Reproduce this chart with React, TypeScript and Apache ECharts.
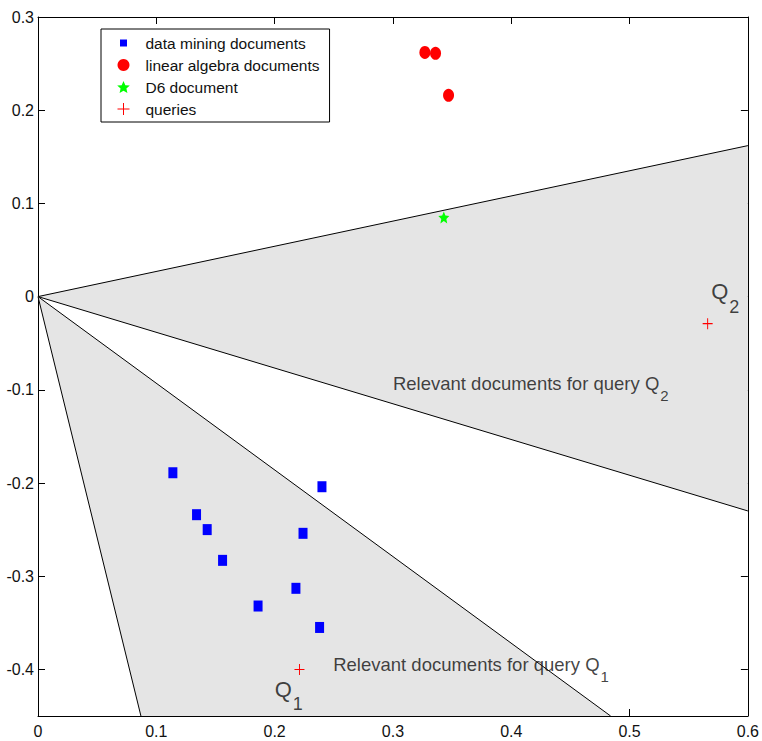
import React, { useEffect, useRef } from "react";
import * as echarts from "echarts";

// Document coordinates in the 2-D latent space
const dataMiningDocs: number[][] = [
  [0.114, -0.189],
  [0.240, -0.204],
  [0.134, -0.234],
  [0.143, -0.250],
  [0.224, -0.254],
  [0.156, -0.283],
  [0.218, -0.313],
  [0.186, -0.332],
  [0.238, -0.355],
];
const linearAlgebraDocs: number[][] = [
  [0.327, 0.262],
  [0.336, 0.261],
  [0.347, 0.216],
];
const d6Doc: number[][] = [[0.343, 0.085]];
const queries: number[][] = [
  [0.221, -0.400],
  [0.566, -0.029],
];

// Relevance cones: apex at the origin, two rays to the plot border
const coneQ2: number[][] = [
  [0, 0],
  [0.6, 0.162],
  [0.6, -0.230],
];
const coneQ1: number[][] = [
  [0, 0],
  [0.087, -0.45],
  [0.484, -0.45],
];
const cones = [coneQ2, coneQ1];

// Axis ticks
const yTicks: number[] = [0.3, 0.2, 0.1, 0, -0.1, -0.2, -0.3, -0.4];

// Annotations: [x, y, text, subscript]
const coneLabels: (string | number)[][] = [
  [0.300, -0.0988, "Relevant documents for query ", "2"],
  [0.2495, -0.3996, "Relevant documents for query ", "1"],
];
const queryLabels: (string | number)[][] = [
  [0.569, -0.0021, "Q", "2"],
  [0.200, -0.4286, "Q", "1"],
];

const FONT = "'Liberation Sans', Arial, Helvetica, sans-serif";
const STAR =
  "path://M12 2L14.9 8.6L22 9.3L16.6 14L18.2 21L12 17.3L5.8 21L7.4 14L2 9.3L9.1 8.6Z";
const PLUS = "path://M5 0L5 10M0 5L10 5";
const SMALL_SQUARE = "path://M0 0L0 0M12 12L12 12M2.5 2.5L9.5 2.5L9.5 9.5L2.5 9.5Z";

export default function App() {
  const ref = useRef<HTMLDivElement>(null);

  useEffect(() => {
    if (!ref.current) return;
    const chart = echarts.init(ref.current, undefined, { renderer: "svg" });

    const axisCommon = {
      axisLine: { show: true, onZero: false, lineStyle: { color: "#000", width: 1 } },
      splitLine: { show: false },
    };

    chart.setOption({
      animation: false,
      backgroundColor: "#fff",
      grid: { left: 38, right: 13, top: 17, bottom: 25, containLabel: false },
      legend: {
        orient: "vertical",
        left: 101,
        top: 29,
        itemWidth: 34,
        itemHeight: 12,
        itemGap: 4,
        padding: [5, 10, 4, 16],
        borderColor: "#000",
        borderWidth: 1,
        borderRadius: 0,
        backgroundColor: "#fff",
        selectedMode: false,
        textStyle: { fontSize: 15.5, color: "#111", fontFamily: FONT, lineHeight: 18 },
        data: [
          { name: "data mining documents", icon: SMALL_SQUARE },
          { name: "linear algebra documents" },
          { name: "D6 document" },
          { name: "queries", itemStyle: { borderWidth: 1, borderColor: "#ff0000" } },
        ],
      },
      xAxis: [
        {
          type: "value",
          min: 0,
          max: 0.6,
          interval: 0.1,
          position: "bottom",
          ...axisCommon,
          axisTick: { show: true, inside: true, length: 7, lineStyle: { color: "#000" } },
          axisLabel: {
            color: "#111",
            fontSize: 16,
            fontFamily: FONT,
            margin: 7,
            formatter: (v: number) => String(parseFloat(v.toFixed(2))),
          },
        },
        {
          type: "value",
          min: 0,
          max: 0.6,
          interval: 0.1,
          position: "top",
          ...axisCommon,
          axisTick: { show: true, inside: true, length: 7, lineStyle: { color: "#000" } },
          axisLabel: { show: false },
        },
      ],
      yAxis: [
        {
          type: "value",
          min: -0.45,
          max: 0.3,
          position: "left",
          ...axisCommon,
          axisTick: {
            show: true,
            inside: true,
            length: 7,
            customValues: yTicks,
            lineStyle: { color: "#000" },
          },
          axisLabel: {
            color: "#111",
            fontSize: 16,
            fontFamily: FONT,
            margin: 4,
            customValues: yTicks,
            formatter: (v: number) => String(parseFloat(v.toFixed(2))),
          },
        },
        {
          type: "value",
          min: -0.45,
          max: 0.3,
          position: "right",
          ...axisCommon,
          axisTick: {
            show: true,
            inside: true,
            length: 7,
            customValues: yTicks,
            lineStyle: { color: "#000" },
          },
          axisLabel: { show: false, customValues: yTicks },
        },
      ],
      series: [
        {
          type: "custom",
          name: "cones",
          z: 1,
          silent: true,
          data: cones.map((c) => c[1]),
          renderItem: (params: any, api: any) => {
            const pts = cones[params.dataIndex].map((p) => api.coord(p));
            return {
              type: "group",
              children: [
                {
                  type: "polygon",
                  shape: { points: pts },
                  style: { fill: "#e5e5e5", stroke: "none" },
                },
                {
                  type: "polyline",
                  shape: { points: [pts[1], pts[0], pts[2]] },
                  style: { fill: "none", stroke: "#000", lineWidth: 1 },
                },
              ],
            };
          },
        },
        {
          type: "scatter",
          name: "data mining documents",
          z: 3,
          symbol: "rect",
          symbolSize: [9, 11],
          itemStyle: { color: "#0000ff", opacity: 1 },
          data: dataMiningDocs,
        },
        {
          type: "scatter",
          name: "linear algebra documents",
          z: 3,
          symbol: "circle",
          symbolSize: [11, 13],
          itemStyle: { color: "#ff0000", opacity: 1 },
          data: linearAlgebraDocs,
        },
        {
          type: "scatter",
          name: "D6 document",
          z: 3,
          symbol: STAR,
          symbolSize: [11, 12],
          itemStyle: { color: "#00ff00", opacity: 1 },
          data: d6Doc,
        },
        {
          type: "scatter",
          name: "queries",
          z: 3,
          symbol: PLUS,
          symbolSize: [10, 11],
          itemStyle: { color: "#ff0000", borderColor: "#ff0000", borderWidth: 1, opacity: 1 },
          data: queries,
        },
        {
          type: "scatter",
          name: "cone labels",
          z: 4,
          silent: true,
          symbolSize: 0,
          data: coneLabels.map((d) => [d[0], d[1]]),
          label: {
            show: true,
            position: "right",
            distance: 0,
            formatter: (p: any) =>
              `{r|${coneLabels[p.dataIndex][2]}Q}{s|${coneLabels[p.dataIndex][3]}}`,
            rich: {
              r: { fontSize: 18.5, fontFamily: FONT, color: "#111", lineHeight: 20, padding: [0, 0, 10, 0] },
              s: { fontSize: 15, fontFamily: FONT, color: "#111", lineHeight: 16, padding: [14, 0, 0, 1] },
            },
          },
        },
        {
          type: "scatter",
          name: "query labels",
          z: 4,
          silent: true,
          symbolSize: 0,
          data: queryLabels.map((d) => [d[0], d[1]]),
          label: {
            show: true,
            position: "right",
            distance: 0,
            formatter: (p: any) =>
              `{q|${queryLabels[p.dataIndex][2]}}{s|${queryLabels[p.dataIndex][3]}}`,
            rich: {
              q: { fontSize: 22, fontFamily: FONT, color: "#111", lineHeight: 24, padding: [0, 0, 14, 0] },
              s: { fontSize: 18, fontFamily: FONT, color: "#111", lineHeight: 18, padding: [16, 0, 0, 1] },
            },
          },
        },
      ],
    });

    return () => chart.dispose();
  }, []);

  return (
    <div
      ref={ref}
      style={{ position: "fixed", left: 0, top: 0, width: 762, height: 741, background: "#fff" }}
    />
  );
}
